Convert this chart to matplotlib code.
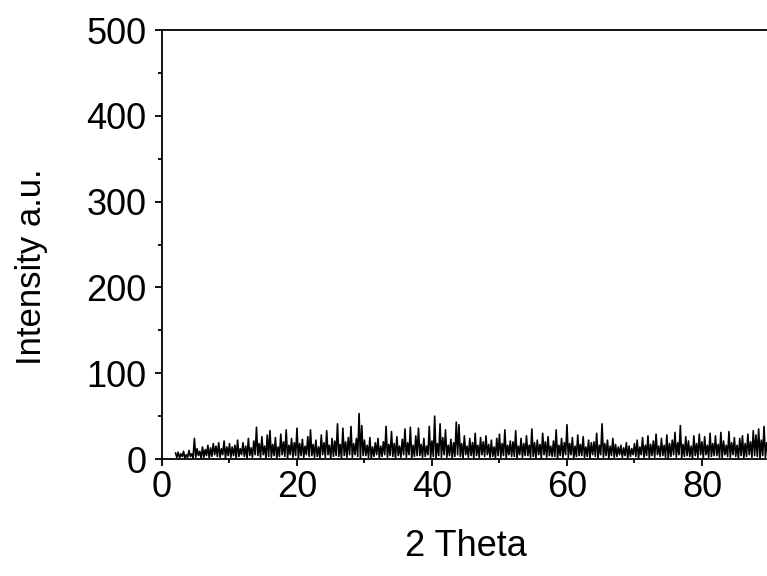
import numpy as np
import matplotlib
matplotlib.use("Agg")
import matplotlib.pyplot as plt
from matplotlib.ticker import MultipleLocator

# scan grid (degrees 2 theta)
theta_start = 2.0
theta_step = 0.2

# intensity, one row per 2 degrees
intensity = [
    7, 2, 8, 1, 6, 3, 9, 0, 5, 2,
    10, 3, 6, 1, 24, 2, 12, 4, 9, 1,
    14, 2, 11, 4, 16, 1, 13, 3, 18, 5,
    15, 3, 19, 2, 12, 5, 21, 1, 14, 4,
    18, 2, 14, 4, 16, 1, 22, 3, 12, 5,
    19, 3, 15, 1, 24, 4, 13, 2, 21, 5,
    37, 4, 18, 2, 26, 5, 15, 1, 28, 3,
    33, 2, 17, 4, 25, 1, 14, 3, 29, 5,
    20, 3, 34, 1, 16, 5, 24, 2, 19, 4,
    36, 1, 18, 4, 23, 2, 15, 5, 26, 3,
    34, 4, 17, 2, 22, 3, 14, 1, 28, 5,
    19, 2, 33, 5, 16, 1, 24, 3, 21, 4,
    41, 3, 17, 1, 36, 4, 20, 2, 25, 5,
    38, 2, 18, 5, 24, 3, 53, 1, 39, 4,
    22, 4, 16, 2, 25, 1, 14, 3, 19, 5,
    24, 1, 15, 3, 20, 5, 38, 2, 17, 4,
    32, 3, 18, 1, 26, 4, 15, 2, 23, 5,
    35, 2, 19, 5, 37, 1, 16, 3, 27, 4,
    36, 4, 17, 2, 24, 3, 15, 5, 38, 1,
    21, 3, 50, 1, 18, 4, 41, 2, 25, 5,
    34, 2, 16, 4, 23, 1, 19, 3, 43, 5,
    40, 3, 18, 1, 27, 5, 15, 2, 24, 4,
    19, 1, 30, 4, 16, 2, 25, 5, 20, 3,
    27, 5, 17, 2, 22, 3, 14, 1, 24, 4,
    29, 2, 18, 4, 34, 1, 16, 5, 21, 3,
    20, 3, 33, 1, 15, 5, 24, 2, 18, 4,
    27, 4, 16, 2, 35, 3, 19, 1, 22, 5,
    17, 1, 30, 5, 20, 2, 26, 4, 15, 3,
    21, 3, 34, 1, 16, 4, 24, 2, 19, 5,
    40, 2, 18, 5, 25, 1, 15, 3, 28, 4,
    17, 4, 26, 2, 14, 3, 22, 1, 19, 5,
    20, 3, 30, 1, 16, 5, 41, 2, 18, 4,
    22, 1, 15, 4, 24, 2, 17, 3, 14, 5,
    16, 2, 13, 4, 19, 1, 15, 3, 12, 5,
    18, 3, 22, 1, 14, 5, 25, 2, 16, 4,
    27, 1, 17, 4, 21, 2, 29, 5, 15, 3,
    24, 4, 16, 2, 28, 1, 18, 3, 22, 5,
    31, 2, 19, 5, 39, 1, 17, 3, 26, 4,
    21, 3, 15, 1, 27, 4, 18, 2, 29, 5,
    20, 1, 26, 5, 16, 2, 30, 3, 18, 4,
    27, 4, 17, 2, 31, 1, 21, 5, 16, 3,
    32, 2, 19, 5, 25, 3, 16, 1, 24, 4,
    27, 1, 18, 3, 29, 5, 20, 2, 33, 4,
    28, 3, 35, 1, 22, 4, 38, 2, 19, 5,
]
two_theta = theta_start + theta_step * np.arange(len(intensity))

plt.rcParams['font.family'] = ['Liberation Sans', 'DejaVu Sans']

fig = plt.figure(figsize=(7.67, 5.76), dpi=100)
ax = fig.add_axes([0.2112, 0.2031, 0.792, 0.7448])

ax.plot(two_theta, intensity, color='black', lw=1.2)

ax.set_xlim(0, 90)
ax.set_ylim(0, 500)
ax.xaxis.set_major_locator(MultipleLocator(20))
ax.xaxis.set_minor_locator(MultipleLocator(10))
ax.yaxis.set_major_locator(MultipleLocator(100))
ax.yaxis.set_minor_locator(MultipleLocator(50))

ax.tick_params(which='both', direction='out', width=1.3, labelsize=26)
ax.tick_params(which='major', length=5)
ax.tick_params(which='minor', length=3)
ax.tick_params(axis='x', pad=3)
ax.tick_params(axis='y', pad=6)
ax.tick_params(top=False, right=False)

for s in ['left', 'bottom', 'top']:
    ax.spines[s].set_linewidth(1.3)
ax.spines['right'].set_visible(False)

ax.set_xlabel('2 Theta', fontsize=26, labelpad=17)
ax.set_ylabel('Intensity a.u.', fontsize=25)
ax.yaxis.set_label_coords(-0.188, 0.4476)

fig.savefig('out.png', dpi=100, facecolor='white')
